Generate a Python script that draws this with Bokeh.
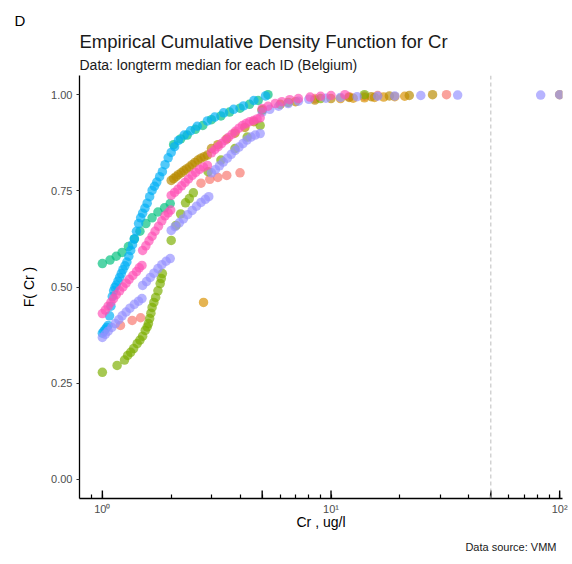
from bokeh.plotting import figure
from bokeh.models import (FixedTicker, NumeralTickFormatter, CustomJSTickFormatter,
                          Span, Title)
from bokeh.embed import file_html
from bokeh.resources import INLINE

# ---------------- data (x = Cr in ug/l, f = ECDF value) ----------------
salmon_x = [1.2, 1.35, 1.47, 2.7, 2.95, 3.2, 3.5, 4.0, 8.5, 12, 14, 16, 32]
salmon_f = [0.40, 0.413, 0.42, 0.77, 0.78, 0.785, 0.79, 0.797, 0.99, 0.995, 0.996, 0.998, 1.0]

orange_x = [2.77, 11, 12.5, 14, 15.5, 17, 19, 21, 100]
orange_f = [0.46, 0.99, 0.991, 0.992, 0.993, 0.994, 0.995, 0.996, 1.0]

gold_x = [2.00, 2.05, 2.10, 2.15, 2.21, 2.27, 2.33, 2.40, 2.47, 2.54, 2.62, 2.70, 2.79, 2.88,
          3.0, 3.2, 3.5, 3.8, 4.2, 4.6, 5.0, 6.0, 7.0, 8.5, 10, 12, 15, 18, 22, 27.8]
gold_f = [0.777, 0.782, 0.787, 0.792, 0.797, 0.802, 0.807, 0.812, 0.818, 0.824, 0.83, 0.835,
          0.839, 0.843, 0.86, 0.87, 0.885, 0.9, 0.915, 0.93, 0.96, 0.975, 0.982, 0.986, 0.99,
          0.993, 0.995, 0.997, 0.998, 1.0]

green_x = [1.00, 1.16, 1.25, 1.29, 1.33, 1.37, 1.42, 1.46, 1.50, 1.54, 1.57, 1.59, 1.61, 1.63,
           1.65, 1.68, 1.71, 1.75, 1.79, 1.81, 1.83, 2.00, 2.10, 2.20, 2.31, 2.40, 2.50,
           2.9, 3.3, 3.8, 4.3, 4.9, 5.0, 6.5, 9.0, 14]
green_f = [0.278, 0.296, 0.31, 0.322, 0.33, 0.34, 0.353, 0.362, 0.372, 0.387, 0.396, 0.405,
           0.418, 0.432, 0.447, 0.46, 0.473, 0.49, 0.509, 0.522, 0.535, 0.621, 0.66, 0.69,
           0.719, 0.73, 0.745, 0.80, 0.83, 0.86, 0.89, 0.92, 0.96, 0.98, 0.99, 1.0]

teal_x = [1.00, 1.08, 1.15, 1.22, 1.30, 1.38, 1.46, 1.55, 1.65, 1.75, 1.87, 1.98,
          2.05, 2.2, 2.35, 2.55, 2.75, 3.0, 3.3, 3.6, 4.0, 4.4, 4.8, 5.3]
teal_f = [0.561, 0.57, 0.58, 0.59, 0.605, 0.625, 0.645, 0.665, 0.68, 0.695, 0.706, 0.717,
          0.87, 0.885, 0.895, 0.91, 0.92, 0.935, 0.945, 0.955, 0.965, 0.975, 0.985, 1.0]

sky_x = [1.00, 1.015, 1.03, 1.045, 1.06, 1.075, 1.09, 1.105, 1.12, 1.135, 1.15, 1.17, 1.19,
         1.21, 1.23, 1.255, 1.28, 1.305, 1.33, 1.355, 1.38, 1.41, 1.44, 1.47, 1.50, 1.535,
         1.57, 1.61, 1.65, 1.69, 1.73, 1.78, 1.83, 1.88, 1.94, 2.00, 2.07, 2.15,
         2.28, 2.43, 2.60, 2.88, 3.10, 3.39, 3.75, 4.14, 4.60, 5.17]
sky_f = [0.380, 0.385, 0.390, 0.395, 0.400, 0.425, 0.45, 0.475, 0.49, 0.499, 0.505, 0.515,
         0.525, 0.535, 0.545, 0.555, 0.565, 0.58, 0.595, 0.61, 0.625, 0.645, 0.665, 0.68,
         0.692, 0.705, 0.718, 0.735, 0.751, 0.762, 0.773, 0.787, 0.80, 0.818, 0.836, 0.85,
         0.865, 0.881, 0.895, 0.906, 0.918, 0.932, 0.942, 0.953, 0.962, 0.971, 0.985, 0.997]

violet_x = [1.00, 1.03, 1.06, 1.10, 1.14, 1.18, 1.22, 1.27, 1.32, 1.38, 1.44, 1.49,
            1.50, 1.56, 1.62, 1.68, 1.75, 1.82, 1.90, 1.98,
            2.00, 2.08, 2.17, 2.26, 2.36, 2.47, 2.58, 2.70, 2.82, 2.92,
            3.00, 3.12, 3.25, 3.38, 3.52, 3.66, 3.81, 3.96, 4.12, 4.29, 4.47, 4.66, 4.90,
            5.0, 5.4, 5.9, 6.5, 7.2, 8.0, 9.5, 11, 13, 16, 19, 24.7, 35.8, 82.6, 100]
violet_f = [0.369, 0.377, 0.385, 0.395, 0.405, 0.415, 0.425, 0.435, 0.445, 0.455, 0.463, 0.470,
            0.504, 0.514, 0.525, 0.536, 0.548, 0.558, 0.567, 0.574,
            0.647, 0.657, 0.667, 0.677, 0.688, 0.699, 0.710, 0.720, 0.728, 0.735,
            0.797, 0.805, 0.815, 0.825, 0.835, 0.845, 0.855, 0.864, 0.873, 0.882, 0.89, 0.895,
            0.899, 0.955, 0.962, 0.97, 0.977, 0.983, 0.988, 0.991, 0.993, 0.995, 0.996, 0.997,
            0.998, 0.999, 0.999, 1.0]

pink_x = [1.00, 1.03, 1.06, 1.09, 1.12, 1.15, 1.19, 1.23, 1.27, 1.31, 1.36, 1.41, 1.45, 1.49,
          1.50, 1.55, 1.60, 1.65, 1.70, 1.76, 1.82, 1.88, 1.94, 1.99,
          2.00, 2.07, 2.14, 2.22, 2.30, 2.38, 2.47, 2.56, 2.66, 2.77, 2.88,
          3.00, 3.10, 3.21, 3.32, 3.44, 3.56, 3.69, 3.82, 3.96, 4.10, 4.25, 4.41, 4.58, 4.75, 4.90,
          5.0, 5.3, 5.7, 6.1, 6.6, 7.2, 8.1, 9.0, 10, 11.5]
pink_f = [0.431, 0.44, 0.45, 0.46, 0.47, 0.48, 0.49, 0.50, 0.51, 0.52, 0.53, 0.54, 0.55, 0.556,
          0.595, 0.607, 0.62, 0.632, 0.645, 0.658, 0.672, 0.685, 0.693, 0.70,
          0.738, 0.746, 0.754, 0.763, 0.772, 0.781, 0.79, 0.798, 0.806, 0.812, 0.816,
          0.849, 0.857, 0.865, 0.873, 0.881, 0.889, 0.897, 0.905, 0.913, 0.92, 0.925, 0.93,
          0.933, 0.937, 0.94, 0.964, 0.97, 0.977, 0.982, 0.987, 0.99, 0.994, 0.996, 0.998, 1.0]

series = [
    (salmon_x, salmon_f, "#F8766D"),
    (orange_x, orange_f, "#D89000"),
    (gold_x, gold_f, "#B88A00"),
    (green_x, green_f, "#7CAE00"),
    (teal_x, teal_f, "#00BF7D"),
    (sky_x, sky_f, "#00B0F6"),
    (violet_x, violet_f, "#9590FF"),
    (pink_x, pink_f, "#FF4FB5"),
]

x_decades = [1, 10, 100]
x_all_ticks = [0.9, 1, 2, 3, 4, 5, 6, 7, 8, 9, 10, 20, 30, 40, 50, 60, 70, 80, 90, 100]
x_long = [1, 5, 10, 50, 100]
y_ticks = [0, 0.25, 0.5, 0.75, 1.0]
limit_value = 50

FONT = "Liberation Sans"
Y0, Y1 = -0.05, 1.05
PX_PER_UNIT = 423 / (Y1 - Y0)

p = figure(width=572, height=564, x_axis_type="log",
           x_range=(0.7943, 102.9), y_range=(Y0, Y1),
           output_backend="svg", toolbar_location=None, title=None,
           min_border_left=79, min_border_right=10, min_border_top=75,
           min_border_bottom=66)
p.outline_line_color = None
p.xgrid.visible = False
p.ygrid.visible = False
p.background_fill_color = "white"
p.border_fill_color = "white"

for xs, fs, col in series:
    p.scatter(xs, fs, size=9.5, fill_color=col, line_color=None, fill_alpha=0.68)

p.add_layout(Span(location=limit_value, dimension="height", line_color="#BDBDBD",
                  line_dash="4 3", line_width=1))

# longer log ticks (decades and halves) drawn inward from the axis
p.segment(x0=x_long, y0=[Y0] * len(x_long), x1=x_long,
          y1=[Y0 + 8 / PX_PER_UNIT] * len(x_long), line_color="black", line_width=1.4)

# x axis: every log tick as a short inward tick, labels only at decades
xa = p.xaxis[0]
xa.ticker = FixedTicker(ticks=x_all_ticks)
xa.formatter = CustomJSTickFormatter(code="""
const m = {1: '10\u2070', 10: '10\u00b9', 100: '10\u00b2'};
return m[tick] || '';
""")
xa.axis_line_color = "black"
xa.axis_line_width = 1.3
xa.major_tick_line_color = "black"
xa.major_tick_line_width = 1.2
xa.major_tick_in = 4
xa.major_tick_out = 0
xa.minor_tick_line_color = None
xa.major_label_text_font = FONT
xa.major_label_text_font_size = "11px"
xa.major_label_text_color = "#4D4D4D"
xa.major_label_standoff = 4
xa.axis_label = "Cr , ug/l"
xa.axis_label_text_font = FONT
xa.axis_label_text_font_size = "14px"
xa.axis_label_text_font_style = "normal"
xa.axis_label_text_color = "black"
xa.axis_label_standoff = -4

# y axis
ya = p.yaxis[0]
ya.ticker = FixedTicker(ticks=y_ticks)
ya.formatter = NumeralTickFormatter(format="0.00")
ya.axis_line_color = "black"
ya.axis_line_width = 1.3
ya.major_tick_line_color = "#333333"
ya.major_tick_in = 0
ya.major_tick_out = 3
ya.minor_tick_line_color = None
ya.major_label_text_font = FONT
ya.major_label_text_font_size = "11px"
ya.major_label_text_color = "#4D4D4D"
ya.major_label_standoff = 4
ya.axis_label = "F( Cr )"
ya.axis_label_text_font = FONT
ya.axis_label_text_font_size = "14px"
ya.axis_label_text_font_style = "normal"
ya.axis_label_text_color = "black"
ya.axis_label_standoff = 11

# titles (first added 'above' sits closest to the plot)
p.add_layout(Title(text="Data: longterm median for each ID (Belgium)", text_font=FONT,
                   text_font_size="14px", text_font_style="normal", text_color="#1a1a1a",
                   align="left", standoff=6), "above")
p.add_layout(Title(text="Empirical Cumulative Density Function for Cr", text_font=FONT,
                   text_font_size="18.5px", text_font_style="normal", text_color="#1a1a1a",
                   align="left", standoff=0), "above")
p.add_layout(Title(text="D", text_font=FONT, text_font_size="15px",
                   text_font_style="normal", text_color="black",
                   align="left", offset=-65, standoff=0), "above")
p.add_layout(Title(text="Data source: VMM", text_font=FONT, text_font_size="11px",
                   text_font_style="normal", text_color="#1a1a1a",
                   align="right", offset=6, standoff=12), "below")

open("out.html", "w").write(file_html(p, INLINE))
